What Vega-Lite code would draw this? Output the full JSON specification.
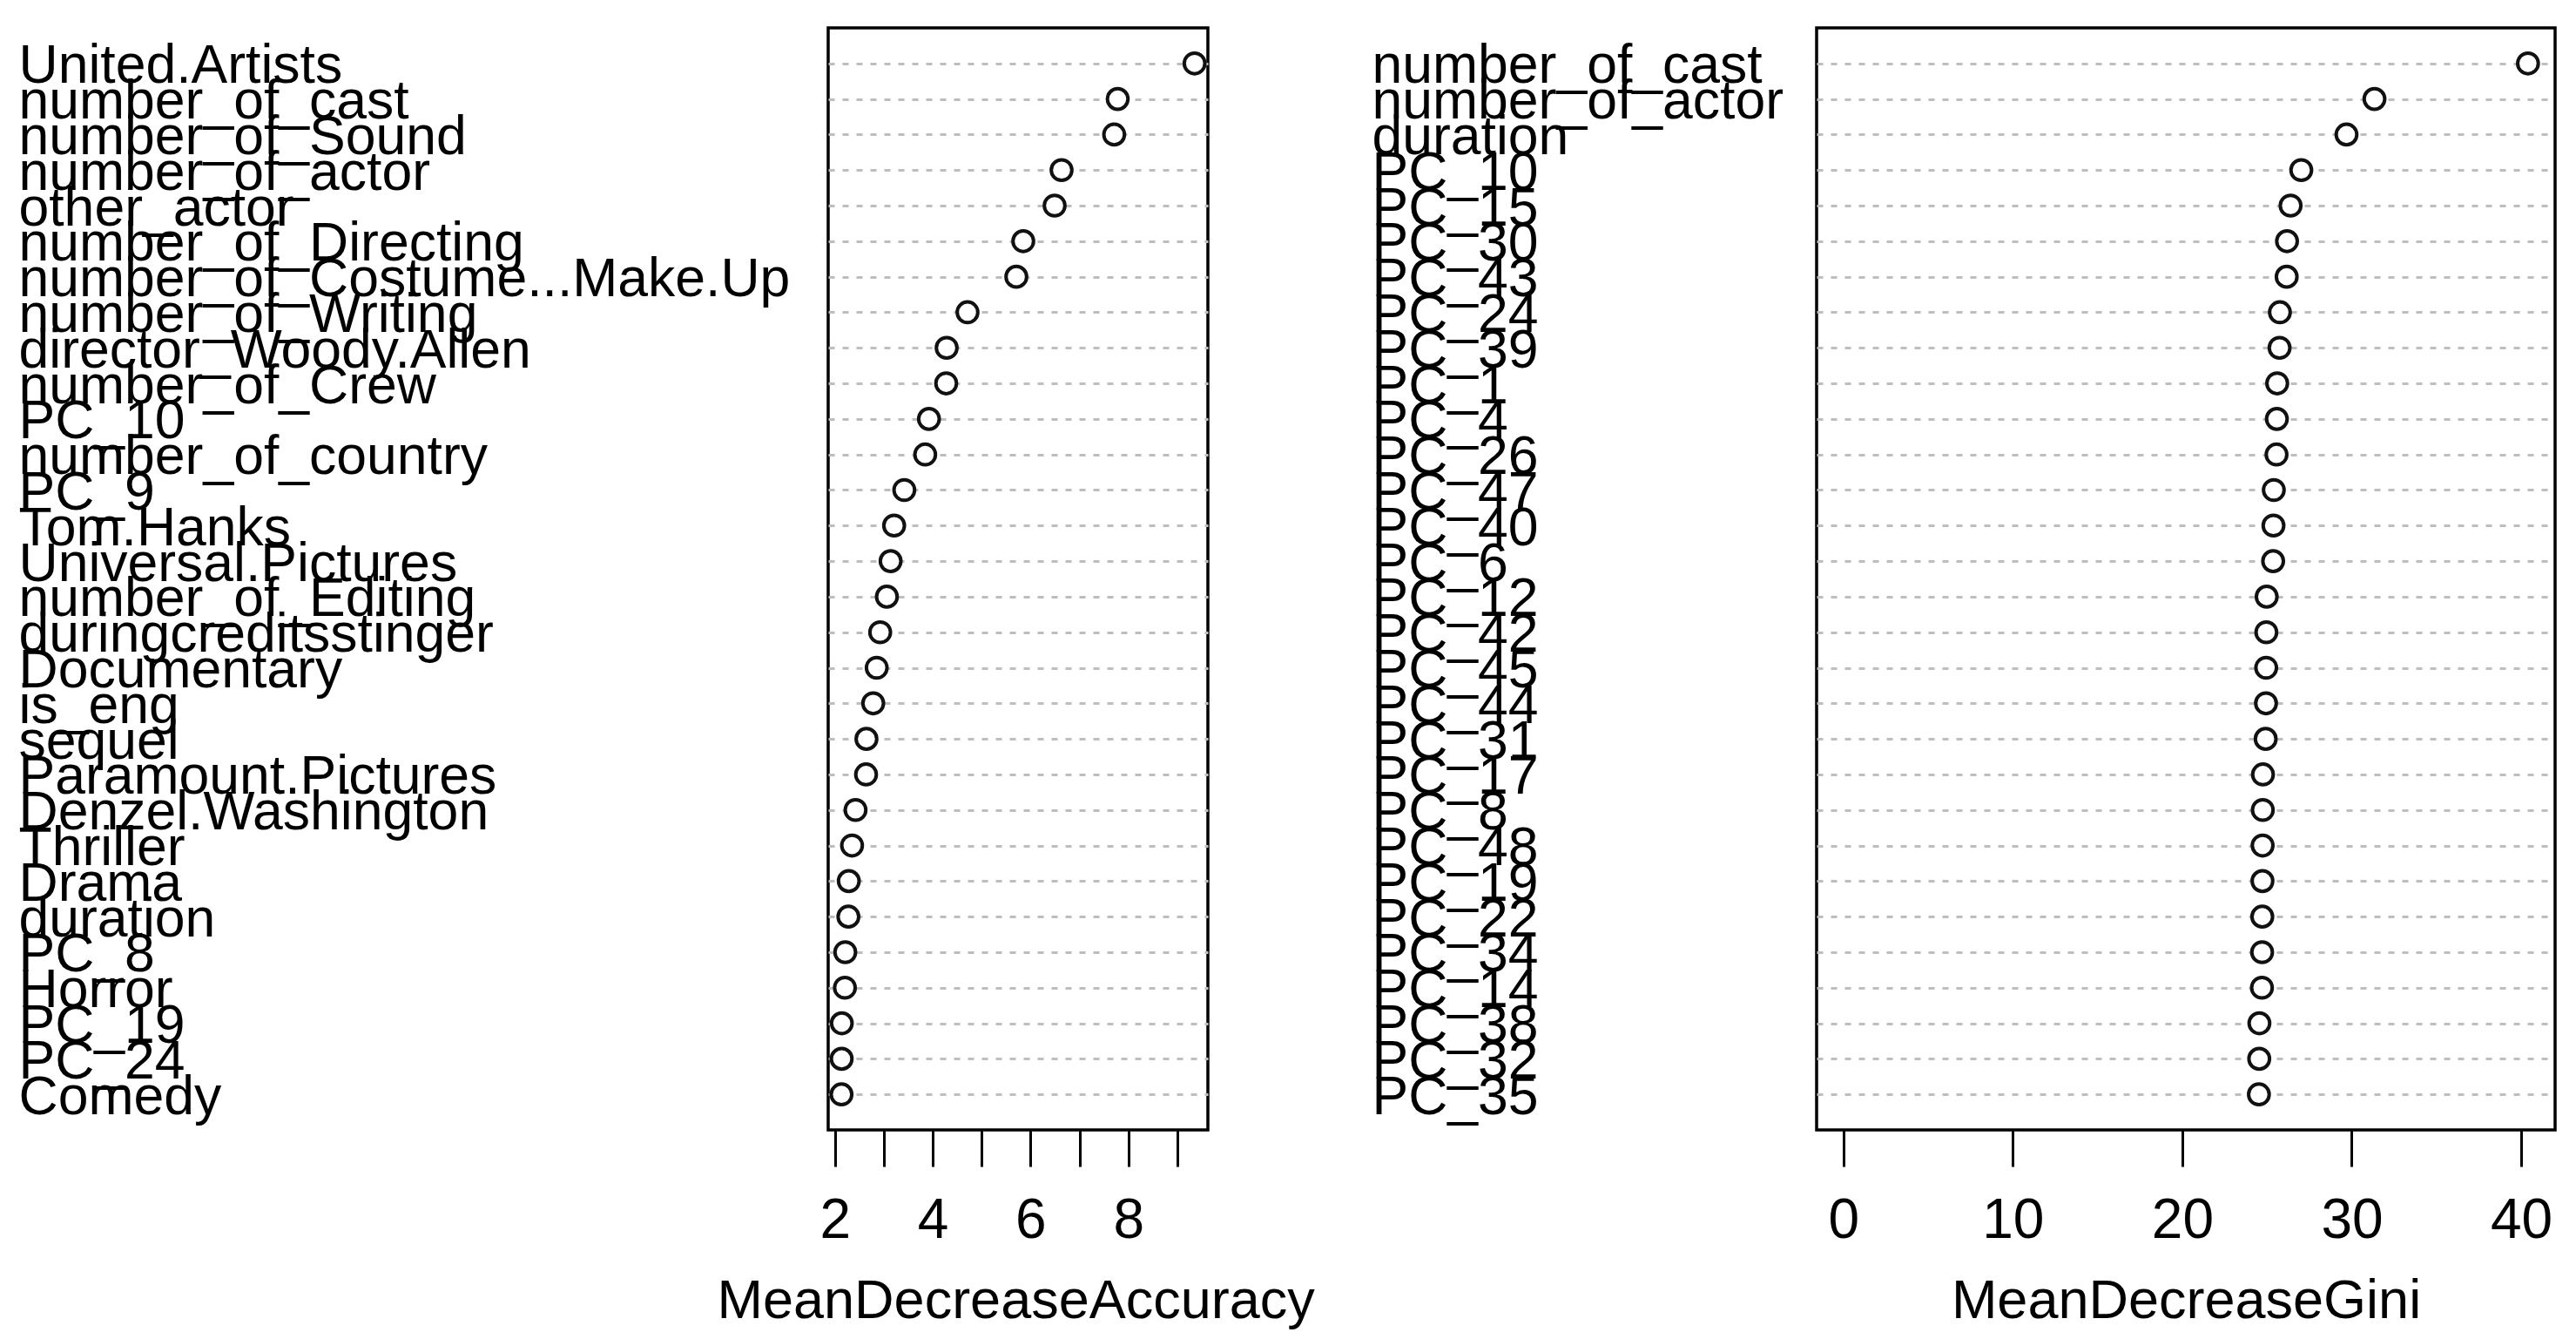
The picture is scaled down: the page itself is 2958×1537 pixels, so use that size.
{
  "$schema": "https://vega.github.io/schema/vega-lite/v6.json",
  "background": "white",
  "padding": {"left": 19, "top": 30, "right": 0, "bottom": 0},
  "autosize": {"type": "pad"},
  "spacing": 699,
  "bounds": "flush",
  "config": {
    "font": "Liberation Sans",
    "view": {"stroke": "black", "strokeWidth": 3.5},
    "axis": {
      "labelColor": "black",
      "titleColor": "black",
      "labelFontSize": 62.5,
      "titleFontSize": 63,
      "titleFontWeight": "normal",
      "labelLimit": 3000,
      "titleLimit": 3000
    }
  },
  "datasets": {
    "acc": [
      {"var": "United.Artists", "value": 9.353},
      {"var": "number_of_cast", "value": 7.781},
      {"var": "number_of_Sound", "value": 7.709},
      {"var": "number_of_actor", "value": 6.634},
      {"var": "other_actor", "value": 6.492},
      {"var": "number_of_Directing", "value": 5.851},
      {"var": "number_of_Costume...Make.Up", "value": 5.709},
      {"var": "number_of_Writing", "value": 4.711},
      {"var": "director_Woody.Allen", "value": 4.285},
      {"var": "number_of_Crew", "value": 4.275},
      {"var": "PC_10", "value": 3.923},
      {"var": "number_of_country", "value": 3.846},
      {"var": "PC_9", "value": 3.419},
      {"var": "Tom.Hanks", "value": 3.211},
      {"var": "Universal.Pictures", "value": 3.139},
      {"var": "number_of_Editing", "value": 3.063},
      {"var": "duringcreditsstinger", "value": 2.926},
      {"var": "Documentary", "value": 2.855},
      {"var": "is_eng", "value": 2.783},
      {"var": "sequel", "value": 2.645},
      {"var": "Paramount.Pictures", "value": 2.637},
      {"var": "Denzel.Washington", "value": 2.422},
      {"var": "Thriller", "value": 2.351},
      {"var": "Drama", "value": 2.284},
      {"var": "duration", "value": 2.276},
      {"var": "PC_8", "value": 2.212},
      {"var": "Horror", "value": 2.205},
      {"var": "PC_19", "value": 2.141},
      {"var": "PC_24", "value": 2.138},
      {"var": "Comedy", "value": 2.135}
    ],
    "gini": [
      {"var": "number_of_cast", "value": 40.40},
      {"var": "number_of_actor", "value": 31.34},
      {"var": "duration", "value": 29.69},
      {"var": "PC_10", "value": 27.02},
      {"var": "PC_15", "value": 26.39},
      {"var": "PC_30", "value": 26.18},
      {"var": "PC_43", "value": 26.16},
      {"var": "PC_24", "value": 25.76},
      {"var": "PC_39", "value": 25.74},
      {"var": "PC_1", "value": 25.60},
      {"var": "PC_4", "value": 25.58},
      {"var": "PC_26", "value": 25.56},
      {"var": "PC_47", "value": 25.40},
      {"var": "PC_40", "value": 25.38},
      {"var": "PC_6", "value": 25.36},
      {"var": "PC_12", "value": 24.98},
      {"var": "PC_42", "value": 24.96},
      {"var": "PC_45", "value": 24.95},
      {"var": "PC_44", "value": 24.94},
      {"var": "PC_31", "value": 24.92},
      {"var": "PC_17", "value": 24.76},
      {"var": "PC_8", "value": 24.75},
      {"var": "PC_48", "value": 24.74},
      {"var": "PC_19", "value": 24.73},
      {"var": "PC_22", "value": 24.72},
      {"var": "PC_34", "value": 24.71},
      {"var": "PC_14", "value": 24.70},
      {"var": "PC_38", "value": 24.55},
      {"var": "PC_32", "value": 24.54},
      {"var": "PC_35", "value": 24.52}
    ]
  },
  "hconcat": [
    {
      "data": {"name": "acc"},
      "width": 436,
      "height": 1265,
      "mark": {"type": "point", "shape": "circle", "filled": true, "fill": "white", "stroke": "#111111", "strokeWidth": 4, "size": 560, "opacity": 1},
      "encoding": {
        "x": {
          "field": "value",
          "type": "quantitative",
          "scale": {"domain": [1.863, 9.625], "nice": false, "zero": false},
          "axis": {
            "title": "MeanDecreaseAccuracy",
            "values": [2, 3, 4, 5, 6, 7, 8, 9],
            "labelExpr": "datum.value % 2 == 0 ? datum.label : ''",
            "labelFontSize": 64,
            "grid": false,
            "domain": false,
            "ticks": true,
            "tickSize": 42,
            "tickWidth": 3,
            "tickColor": "black",
            "labelPadding": 30,
            "labelOverlap": false,
            "labelFlush": false,
            "titleY": 215,
            "titleBaseline": "alphabetic",
            "titleAlign": "left",
            "titleAnchor": "start",
            "titleX": -128
          }
        },
        "y": {
          "field": "var",
          "type": "nominal",
          "sort": null,
          "scale": {"type": "point", "padding": 1},
          "axis": {
            "title": null,
            "ticks": false,
            "tickSize": 0,
            "domain": false,
            "grid": true,
            "gridColor": "#bebebe",
            "gridDash": [7, 9],
            "gridWidth": 3,
            "labelAlign": "left",
            "labelBaseline": "middle",
            "labelPadding": 930,
            "labelOffset": 3,
            "labelOverlap": false
          }
        }
      }
    },
    {
      "data": {"name": "gini"},
      "width": 848,
      "height": 1265,
      "mark": {"type": "point", "shape": "circle", "filled": true, "fill": "white", "stroke": "#111111", "strokeWidth": 4, "size": 560, "opacity": 1},
      "encoding": {
        "x": {
          "field": "value",
          "type": "quantitative",
          "scale": {"domain": [-1.58, 42.0], "nice": false, "zero": false},
          "axis": {
            "title": "MeanDecreaseGini",
            "values": [0, 10, 20, 30, 40],
            "labelFontSize": 64,
            "grid": false,
            "domain": false,
            "ticks": true,
            "tickSize": 42,
            "tickWidth": 3,
            "tickColor": "black",
            "labelPadding": 30,
            "labelOverlap": false,
            "labelFlush": false,
            "titleY": 215,
            "titleBaseline": "alphabetic"
          }
        },
        "y": {
          "field": "var",
          "type": "nominal",
          "sort": null,
          "scale": {"type": "point", "padding": 1},
          "axis": {
            "title": null,
            "ticks": false,
            "tickSize": 0,
            "domain": false,
            "grid": true,
            "gridColor": "#bebebe",
            "gridDash": [7, 9],
            "gridWidth": 3,
            "labelAlign": "left",
            "labelBaseline": "middle",
            "labelPadding": 511,
            "labelOffset": 3,
            "labelOverlap": false
          }
        }
      }
    }
  ]
}
